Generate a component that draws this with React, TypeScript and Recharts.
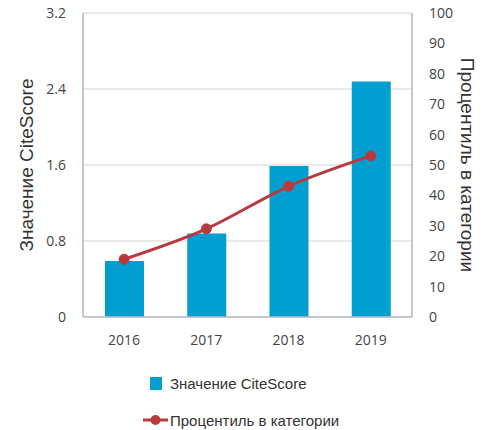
import React from "react";
import {
  ComposedChart,
  Bar,
  Line,
  XAxis,
  YAxis,
  CartesianGrid,
  Legend,
} from "recharts";

const years = ["2016", "2017", "2018", "2019"];
const citeScore = [0.59, 0.88, 1.59, 2.48];
const percentile = [19, 29, 43, 53];
const leftTicks = [0, 0.8, 1.6, 2.4, 3.2];
const rightTicks = [0, 10, 20, 30, 40, 50, 60, 70, 80, 90, 100];

const BAR_NAME = "Значение CiteScore";
const LINE_NAME = "Процентиль в категории";
const BAR_COLOR = "#009fcf";
const LINE_COLOR = "#b83a3f";

const data = years.map((y, i) => ({
  year: y,
  cs: citeScore[i],
  pct: percentile[i],
}));

const tickStyle = { fontFamily: "'Open Sans', sans-serif", fontSize: 14, fill: "#444" };
const titleFont = "'Liberation Sans', Arial, sans-serif";

const LegendContent = () => (
  <div style={{ fontFamily: titleFont, fontSize: 15, color: "#333" }}>
    <div style={{ display: "flex", alignItems: "center", height: 20, marginBottom: 17 }}>
      <div style={{ width: 25, display: "flex", justifyContent: "center" }}>
        <div style={{ width: 12, height: 13, background: BAR_COLOR }} />
      </div>
      <span style={{ marginLeft: 2 }}>{BAR_NAME}</span>
    </div>
    <div style={{ display: "flex", alignItems: "center", height: 20 }}>
      <svg width={25} height={12}>
        <line x1={0} y1={6} x2={25} y2={6} stroke={LINE_COLOR} strokeWidth={3} />
        <circle cx={12.5} cy={6} r={5} fill={LINE_COLOR} />
      </svg>
      <span style={{ marginLeft: 2 }}>{LINE_NAME}</span>
    </div>
  </div>
);

export default function App() {
  return (
    <div style={{ position: "absolute", left: 0, top: 0 }}>
      <ComposedChart
        width={490}
        height={430}
        data={data}
        margin={{ top: 13, right: 0, bottom: 73, left: 0 }}
      >
        <CartesianGrid
          yAxisId="left"
          vertical={false}
          stroke="#e2e2e2"
          strokeWidth={1.5}
        />
        <XAxis
          dataKey="year"
          tickLine={false}
          axisLine={{ stroke: "#b8bcc4", strokeWidth: 1.5 }}
          tick={tickStyle}
          tickMargin={12}
          height={40}
        />
        <XAxis
          xAxisId="top"
          dataKey="year"
          orientation="top"
          tick={false}
          tickLine={false}
          axisLine={{ stroke: "#b4b4b4", strokeWidth: 1.5 }}
          height={0}
        />
        <YAxis
          yAxisId="left"
          domain={[0, 3.2]}
          ticks={leftTicks}
          interval={0}
          width={83}
          tickLine={false}
          tickSize={0}
          tickMargin={17}
          axisLine={{ stroke: "#b4b4b4", strokeWidth: 1.5 }}
          tick={tickStyle}
          label={({ viewBox }: any) => (
            <text
              x={26}
              y={viewBox.y + viewBox.height / 2}
              transform={`rotate(-90, 26, ${viewBox.y + viewBox.height / 2})`}
              textAnchor="middle"
              dominantBaseline="central"
              fontFamily={titleFont}
              fontSize={19}
              fill="#333"
            >
              {BAR_NAME}
            </text>
          )}
        />
        <YAxis
          yAxisId="right"
          orientation="right"
          domain={[0, 100]}
          ticks={rightTicks}
          interval={0}
          width={78}
          tickLine={false}
          tickSize={0}
          tickMargin={17}
          axisLine={{ stroke: "#b4b4b4", strokeWidth: 1.5 }}
          tick={tickStyle}
          label={({ viewBox }: any) => (
            <text
              x={467}
              y={viewBox.y + viewBox.height / 2}
              transform={`rotate(90, 467, ${viewBox.y + viewBox.height / 2})`}
              textAnchor="middle"
              dominantBaseline="central"
              fontFamily={titleFont}
              fontSize={19}
              fill="#333"
            >
              {LINE_NAME}
            </text>
          )}
        />
        <Bar
          yAxisId="left"
          dataKey="cs"
          name={BAR_NAME}
          fill={BAR_COLOR}
          barSize={39}
          isAnimationActive={false}
        />
        <Line
          yAxisId="right"
          dataKey="pct"
          name={LINE_NAME}
          type="monotone"
          stroke={LINE_COLOR}
          strokeWidth={3}
          dot={{ r: 5, fill: LINE_COLOR, stroke: LINE_COLOR, strokeWidth: 1 }}
          isAnimationActive={false}
        />
        <Legend
          layout="vertical"
          align="center"
          verticalAlign="middle"
          content={() => <LegendContent />}
          wrapperStyle={{ position: "absolute", left: 143, top: 373, width: 300, height: 60 }}
        />
      </ComposedChart>
    </div>
  );
}
